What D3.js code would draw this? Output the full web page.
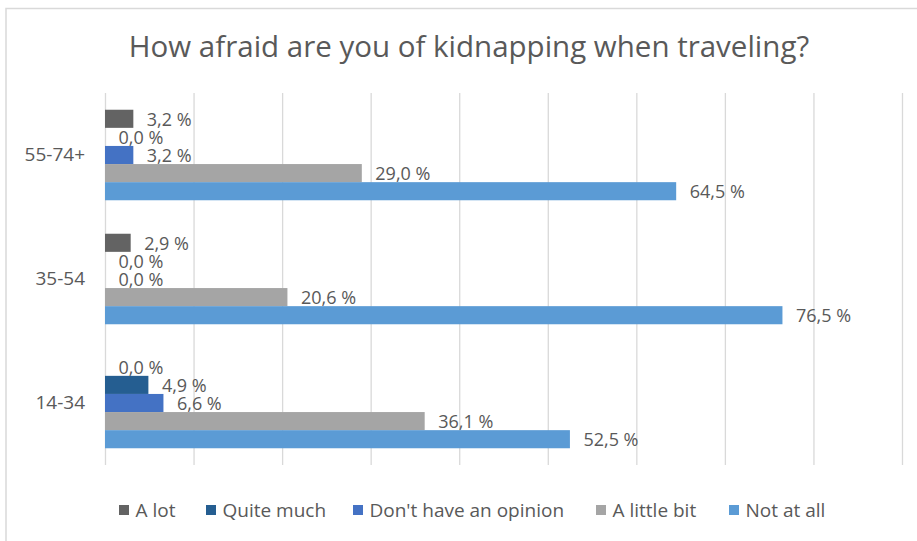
<!DOCTYPE html>
<html>
<head>
<meta charset="utf-8">
<script src="https://cdn.jsdelivr.net/npm/d3@7"></script>
<style>
  body { margin: 0; background: #fff; }
  svg { display: block; }
  text { font-family: "Open Sans", sans-serif; fill: #595959; }
</style>
</head>
<body>
<svg id="chart" width="917" height="541"></svg>
<script>
const title = "How afraid are you of kidnapping when traveling?";
const categories = ["55-74+", "35-54", "14-34"];
const seriesNames = ["A lot", "Quite much", "Don't have an opinion", "A little bit", "Not at all"];
const seriesColors = ["#636363", "#255E91", "#4472C4", "#A5A5A5", "#5B9BD5"];
// values in percent, per series, in category order
const aLot        = [3.2, 2.9, 0.0];
const quiteMuch   = [0.0, 0.0, 4.9];
const noOpinion   = [3.2, 0.0, 6.6];
const aLittleBit  = [29.0, 20.6, 36.1];
const notAtAll    = [64.5, 76.5, 52.5];
const xTicks = [0, 10, 20, 30, 40, 50, 60, 70, 80, 90];

const seriesValues = [aLot, quiteMuch, noOpinion, aLittleBit, notAtAll];

const svg = d3.select("#chart");

// chart area border
svg.append("rect")
  .attr("x", 6).attr("y", 8.5)
  .attr("width", 930).attr("height", 560)
  .attr("fill", "#fff")
  .attr("stroke", "#D9D9D9").attr("stroke-width", 1.5);

// title
svg.append("text")
  .attr("x", 469).attr("y", 57)
  .attr("text-anchor", "middle")
  .style("font-size", "29.5px")
  .text(title);

const plot = { left: 105, right: 902, top: 93, bottom: 465 };

const x = d3.scaleLinear().domain([0, 90]).range([plot.left, plot.right]);
const y0 = d3.scaleBand().domain(categories).range([plot.top, plot.bottom])
  .paddingInner(0.27).paddingOuter(0.135);
const y1 = d3.scaleBand().domain(seriesNames).range([0, y0.bandwidth()]).padding(0);

// gridlines
const grid = svg.append("g")
  .attr("transform", `translate(0,${plot.bottom})`)
  .call(d3.axisBottom(x).tickValues(xTicks).tickSize(-(plot.bottom - plot.top)).tickFormat(""));
grid.select(".domain").remove();
grid.selectAll(".tick line").attr("stroke", "#D9D9D9").attr("stroke-width", 1.3);

// category axis labels
const yAxis = svg.append("g")
  .attr("transform", `translate(${plot.left},0)`)
  .call(d3.axisLeft(y0).tickSize(0).tickPadding(20));
yAxis.select(".domain").remove();
yAxis.selectAll("text")
  .style("font-size", "19px")
  .style("font-family", "'Open Sans', sans-serif")
  .attr("fill", "#595959");

// bars
const fmt = v => d3.format(".1f")(v).replace(".", ",") + " %";
const groups = svg.append("g").selectAll("g")
  .data(categories)
  .join("g")
  .attr("transform", c => `translate(0,${y0(c)})`);

groups.each(function(c, ci) {
  const g = d3.select(this);
  const rows = seriesNames.map((s, si) => ({ s, si, v: seriesValues[si][ci] }));
  g.selectAll("rect")
    .data(rows)
    .join("rect")
    .attr("x", x(0))
    .attr("y", d => y1(d.s))
    .attr("width", d => x(d.v) - x(0))
    .attr("height", y1.bandwidth())
    .attr("fill", d => seriesColors[d.si]);
  g.selectAll("text")
    .data(rows)
    .join("text")
    .attr("x", d => x(d.v) + 13.5)
    .attr("y", d => y1(d.s) + y1.bandwidth() / 2)
    .attr("dy", "0.38em")
    .style("font-size", "18px")
    .text(d => fmt(d.v));
});

// legend
const legendX = [119, 206, 353, 596, 729];
const legend = svg.append("g").selectAll("g")
  .data(seriesNames)
  .join("g")
  .attr("transform", (d, i) => `translate(${legendX[i]},510)`);
legend.append("rect")
  .attr("x", 0).attr("y", -5).attr("width", 10).attr("height", 10)
  .attr("fill", (d, i) => seriesColors[i]);
legend.append("text")
  .attr("x", 16.5).attr("y", 0).attr("dy", "0.36em")
  .style("font-size", "19px")
  .text(d => d);
</script>
</body>
</html>
